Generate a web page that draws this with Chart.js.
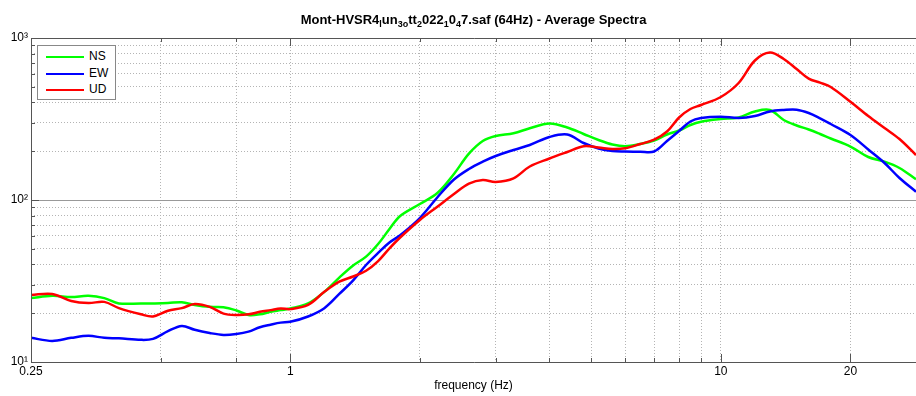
<!DOCTYPE html>
<html>
<head>
<meta charset="utf-8">
<script src="https://cdn.jsdelivr.net/npm/chart.js@4.4.0/dist/chart.umd.min.js"></script>
<style>
  html, body { margin: 0; padding: 0; background: #fff; }
  #wrap { position: relative; width: 916px; height: 396px; overflow: hidden; }
  #title {
    position: absolute; left: 31px; width: 885px; top: 12px;
    text-align: center; color: #000;
    font: bold 13px "Liberation Sans", Arial, sans-serif;
  }
  #title sub { font-size: 9px; vertical-align: -3px; line-height: 0; }
  #legend {
    position: absolute; left: 37px; top: 45px; width: 77px; height: 53px;
    background: #fff; border: 1px solid #888;
    font: 12px "Liberation Sans", Arial, sans-serif; color: #000;
  }
  .row { position: absolute; left: 8px; width: 66px; height: 14px; }
  .row .line { position: absolute; left: 0; top: 6px; width: 38px; height: 2px; }
  .row .lbl { position: absolute; left: 43px; top: -1px; }
</style>
</head>
<body>
<div id="wrap">
  <canvas id="spectraChart" width="916" height="396"></canvas>
  <div id="title">Mont-HVSR4<sub>l</sub>un<sub>3o</sub>tt<sub>2</sub>022<sub>1</sub>0<sub>4</sub>7.saf (64Hz) - Average Spectra</div>
  <div id="legend"></div>
</div>
<script>
// frequency grid (Hz) shared by the three components
const freqHz = [0.25, 0.28, 0.31, 0.34, 0.37, 0.40, 0.45, 0.48, 0.52, 0.56, 0.60, 0.65, 0.70, 0.75, 0.80,
    0.85, 0.90, 0.95, 1.0, 1.1, 1.2, 1.3, 1.4, 1.5, 1.6, 1.7, 1.8, 2.0, 2.2, 2.4, 2.6, 2.8, 3.0, 3.3, 3.6,
    4.0, 4.4, 4.8, 5.2, 5.6, 6.0, 6.5, 7.0, 7.5, 8.0, 8.5, 9.0, 10, 11, 12, 13, 14, 15, 16, 17, 18, 20,
    22, 24, 26, 28.4];

const nsSpectrum = [24.8, 25.6, 25.2, 25.6, 24.8, 23.0, 23.0, 23.0, 23.1, 23.4, 22.5, 21.9, 21.8, 20.8, 19.5,
    19.7, 20.4, 20.9, 21.4, 23.0, 27.1, 33.2, 39.4, 44.7, 53.5, 66.2, 79.7, 94.5, 110.8, 144.7, 193.2, 231.3,
    248.4, 258.1, 277.1, 296.7, 280.3, 255.6, 234.6, 220.1, 214.6, 221.6, 232.9, 253.8, 268.5, 290.4, 304.3,
    316.2, 323.1, 351.8, 359.4, 311.8, 288.4, 272.4, 255.6, 239.7, 213.9, 184.3, 172.4, 157.6, 134.2];

const ewSpectrum = [14.1, 13.5, 14.1, 14.5, 14.1, 14.0, 13.7, 13.9, 15.5, 16.7, 15.8, 15.1, 14.7, 14.9, 15.4,
    16.4, 17.0, 17.5, 17.7, 19.1, 21.5, 26.3, 31.9, 39.7, 47.1, 54.7, 60.6, 77.4, 104.4, 133.8, 155.4, 172.4,
    186.9, 203.6, 218.6, 244.9, 253.8, 224.8, 207.9, 200.7, 199.3, 198.7, 199.3, 231.3, 266.6, 305.2, 320.8,
    326.8, 320.8, 330.1, 351.8, 359.4, 360.9, 344.4, 319.4, 294.5, 251.9, 205.0, 169.2, 136.7, 112.5];

const udSpectrum = [25.9, 26.3, 23.8, 23.1, 23.5, 21.5, 19.7, 19.1, 20.7, 21.5, 22.8, 21.9, 19.9, 19.5, 19.7,
    20.4, 20.9, 21.4, 21.2, 22.5, 27.1, 31.3, 33.7, 36.6, 42.0, 50.3, 58.7, 75.3, 91.2, 108.9, 126.1, 132.9,
    129.2, 136.1, 161.0, 180.4, 197.9, 214.6, 211.0, 206.5, 208.8, 221.6, 235.6, 264.7, 323.1, 364.5, 385.8,
    432.4, 527.6, 726.3, 813.8, 742.0, 643.7, 560.8, 529.9, 498.2, 403.8, 330.1, 278.3, 237.9, 189.6];

const seriesNames = ['NS', 'EW', 'UD'];
const seriesColors = ['#00ff00', '#0000ff', '#ff0000'];

// axis ticks / grid
const xGridHz = [0.25, 0.5, 0.75, 1, 2, 3, 4, 5, 6, 7, 8, 9, 10, 20];
const xLabelHz = [0.25, 1, 10, 20];
const xLabelText = ['0.25', '1', '10', '20'];
const yGridVals = [10, 20, 30, 40, 50, 60, 70, 80, 90, 100, 200, 300, 400, 500, 600, 700, 800, 900, 1000];
const yLabelVals = [10, 100, 1000];
const yLabelText = ['10\u00B9', '10\u00B2', '10\u00B3'];

const FONT = '"Liberation Sans", Arial, sans-serif';

document.addEventListener('DOMContentLoaded', () => {
    const legendEl = document.getElementById('legend');
    seriesNames.forEach((name, i) => {
        const row = document.createElement('div');
        row.className = 'row';
        row.style.top = [4, 21, 37][i] + 'px';
        row.innerHTML = `<span class="line" style="background:${seriesColors[i]}"></span><span class="lbl">${name}</span>`;
        legendEl.appendChild(row);
    });

    const spectra = [nsSpectrum, ewSpectrum, udSpectrum];

    // box around the plot + small inner ticks (matlab style)
    const framePlugin = {
        id: 'frame',
        afterDraw(chart) {
            const { ctx, chartArea: a, scales } = chart;
            ctx.save();
            ctx.strokeStyle = '#555';
            ctx.lineWidth = 1;
            ctx.beginPath();
            ctx.moveTo(a.right + 5, a.top + 0.5);
            ctx.lineTo(a.left + 0.5, a.top + 0.5);
            ctx.lineTo(a.left + 0.5, a.bottom + 0.5);
            ctx.lineTo(a.right + 5, a.bottom + 0.5);
            ctx.stroke();
            xGridHz.forEach(v => {
                const x = Math.round(scales.x.getPixelForValue(v)) + 0.5;
                const len = xLabelHz.includes(v) ? 8 : 4;
                ctx.beginPath();
                ctx.moveTo(x, a.bottom); ctx.lineTo(x, a.bottom - len);
                ctx.moveTo(x, a.top); ctx.lineTo(x, a.top + len);
                ctx.stroke();
            });
            yGridVals.forEach(v => {
                const y = Math.round(scales.y.getPixelForValue(v)) + 0.5;
                const len = yLabelVals.includes(v) ? 8 : 4;
                ctx.beginPath();
                ctx.moveTo(a.left, y); ctx.lineTo(a.left + len, y);
                ctx.stroke();
            });
            ctx.restore();
        }
    };

    new Chart(document.getElementById('spectraChart'), {
        type: 'line',
        data: {
            datasets: seriesNames.map((name, i) => ({
                label: name,
                data: freqHz.map((f, j) => ({ x: f, y: spectra[i][j] })),
                borderColor: seriesColors[i],
                backgroundColor: seriesColors[i],
                borderWidth: 2.5,
                pointRadius: 0,
                tension: 0.35,
                fill: false,
                order: 2 - i
            }))
        },
        options: {
            responsive: false,
            animation: false,
            devicePixelRatio: 1,
            layout: { padding: { top: 38, left: 0, right: 0, bottom: 0 } },
            plugins: {
                legend: { display: false },
                tooltip: { enabled: false }
            },
            scales: {
                x: {
                    type: 'logarithmic',
                    min: 0.25,
                    max: 28.4,
                    afterBuildTicks: s => { s.ticks = xGridHz.map(v => ({ value: v })); },
                    afterFit: s => { s.height = 34; },
                    ticks: {
                        autoSkip: false,
                        maxRotation: 0,
                        padding: 2,
                        color: '#000',
                        font: { size: 12, family: FONT },
                        callback: v => {
                            const k = xLabelHz.indexOf(v);
                            return k >= 0 ? xLabelText[k] : '';
                        }
                    },
                    grid: { color: '#b4b4b4', lineWidth: 1, drawTicks: false },
                    border: { display: false, dash: [1, 2] },
                    title: {
                        display: true,
                        text: 'frequency (Hz)',
                        color: '#000',
                        font: { size: 12, family: FONT },
                        padding: { top: 0, bottom: 3 }
                    }
                },
                y: {
                    type: 'logarithmic',
                    min: 10,
                    max: 1000,
                    afterBuildTicks: s => { s.ticks = yGridVals.map(v => ({ value: v })); },
                    afterFit: s => { s.width = 31; },
                    ticks: {
                        autoSkip: false,
                        padding: 3,
                        color: '#000',
                        font: { size: 12, family: FONT },
                        callback: v => {
                            const k = yLabelVals.indexOf(v);
                            return k >= 0 ? yLabelText[k] : '';
                        }
                    },
                    grid: {
                        color: c => (c.tick && c.tick.value === 100) ? '#999' : '#b4b4b4',
                        lineWidth: 1,
                        drawTicks: false
                    },
                    border: {
                        display: false,
                        dash: c => (c.tick && c.tick.value === 100) ? [] : [1, 2]
                    }
                }
            }
        },
        plugins: [framePlugin]
    });
});
</script>
</body>
</html>
